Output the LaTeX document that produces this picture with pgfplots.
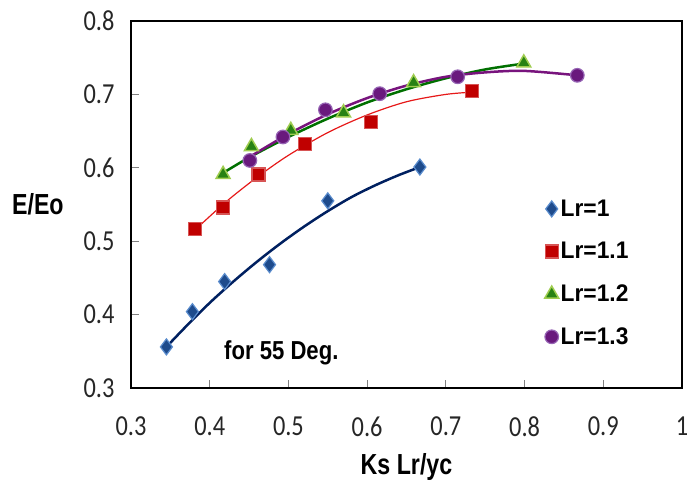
\documentclass[border=0pt]{standalone}
\usepackage{fontspec}
\usepackage{pgfplots}
\usepackage{pgfplotstable}
\pgfplotsset{compat=1.18}
\setmainfont{Carlito}
\newfontfamily\tickfont{Carlito}[FakeStretch=0.84]
\newfontfamily\labfont{Liberation Sans}[FakeStretch=0.8]
\newfontfamily\legfont{Liberation Sans}[FakeStretch=0.95]
\newfontfamily\notefont{Liberation Sans}[FakeStretch=0.85]

\definecolor{navyline}{RGB}{0,32,96}
\definecolor{diafill}{RGB}{30,75,140}
\definecolor{diaedge}{RGB}{90,140,205}
\definecolor{redline}{RGB}{230,25,25}
\definecolor{sqfill}{RGB}{192,0,0}
\definecolor{sqedge}{RGB}{215,85,85}
\definecolor{greenline}{RGB}{0,112,0}
\definecolor{trifill}{RGB}{40,130,20}
\definecolor{triedge}{RGB}{160,205,80}
\definecolor{purpleline}{RGB}{120,20,125}
\definecolor{circfill}{RGB}{105,25,125}
\definecolor{circedge}{RGB}{150,100,180}

% measured points
\pgfplotstableread{
x y
0.345 0.356
0.378 0.404
0.419 0.445
0.476 0.468
0.550 0.555
0.667 0.601
}\lrA
\pgfplotstableread{
x y
0.381 0.517
0.417 0.546
0.462 0.591
0.521 0.632
0.605 0.662
0.733 0.705
}\lrB
\pgfplotstableread{
x y
0.417 0.591
0.453 0.629
0.503 0.651
0.570 0.675
0.659 0.716
0.799 0.743
}\lrC
\pgfplotstableread{
x y
0.451 0.610
0.493 0.642
0.547 0.679
0.616 0.701
0.715 0.724
0.867 0.726
}\lrD

% trend curves
\pgfplotstableread{
x y
0.345 0.356
0.370 0.384
0.400 0.416
0.430 0.445
0.460 0.472
0.490 0.497
0.520 0.520
0.550 0.541
0.580 0.560
0.610 0.576
0.640 0.590
0.667 0.601
}\trA
\pgfplotstableread{
x y
0.381 0.515
0.420 0.553
0.460 0.587
0.500 0.617
0.550 0.648
0.600 0.672
0.650 0.690
0.700 0.700
0.733 0.703
}\trB
\pgfplotstableread{
x y
0.417 0.593
0.450 0.614
0.500 0.642
0.550 0.667
0.600 0.689
0.650 0.707
0.700 0.722
0.750 0.734
0.799 0.742
}\trC
\pgfplotstableread{
x y
0.451 0.615
0.500 0.646
0.550 0.673
0.600 0.695
0.650 0.712
0.700 0.724
0.750 0.730
0.800 0.732
0.867 0.726
}\trD

\begin{document}
\begin{tikzpicture}
\begin{axis}[
  scale only axis, width=551pt, height=367pt,
  xmin=0.3, xmax=1, ymin=0.3, ymax=0.8,
  xtick={0.3,0.4,0.5,0.6,0.7,0.8,0.9,1},
  ytick={0.3,0.4,0.5,0.6,0.7,0.8},
  tick align=inside, xtick pos=bottom, ytick pos=left,
  major tick length=8pt,
  major tick style={black!50, line width=0.8pt},
  axis line style={black, line width=1.8pt},
  /pgf/number format/assume math mode=true,
  /pgf/number format/fixed, /pgf/number format/precision=1,
  ticklabel style={font=\tickfont\fontsize{29}{32}\selectfont, text=black!85},
  yticklabel style={xshift=-13pt},
  xticklabel style={yshift=-25pt},
  xlabel={Ks Lr/yc}, ylabel={E/Eo},
  label style={font=\labfont\bfseries\fontsize{29}{32}\selectfont},
  xlabel style={at={(axis description cs:0.5,-0.215)}, anchor=center},
  ylabel style={at={(axis description cs:-0.169,0.5)}, anchor=center, rotate=-90},
  legend style={draw=none, fill=none, at={(0.747,0.524)}, anchor=north west,
    font=\legfont\bfseries\fontsize{24}{28}\selectfont, row sep=20.5pt, inner sep=2pt},
  legend cell align=left,
]
\addplot[only marks, mark=diamond*, mark size=8pt,
  mark options={fill=diafill, draw=diaedge, line width=1.2pt}] table {\lrA};
\addlegendentry{Lr=1}
\addplot[only marks, mark=square*, mark size=6.5pt,
  mark options={fill=sqfill, draw=sqedge, line width=1.2pt}] table {\lrB};
\addlegendentry{Lr=1.1}
\addplot[only marks, mark=triangle*, mark size=8pt,
  mark options={fill=trifill, draw=triedge, line width=1.5pt}] table {\lrC};
\addlegendentry{Lr=1.2}
\addplot[only marks, mark=*, mark size=6.8pt,
  mark options={fill=circfill, draw=circedge, line width=1.2pt}] table {\lrD};
\addlegendentry{Lr=1.3}

\addplot[forget plot, smooth, navyline, line width=2.5pt] table {\trA};
\addplot[forget plot, smooth, redline, line width=1.2pt] table {\trB};
\addplot[forget plot, smooth, greenline, line width=2.5pt] table {\trC};
\addplot[forget plot, smooth, purpleline, line width=2.5pt] table {\trD};

\node[font=\notefont\bfseries\fontsize{26}{30}\selectfont] at (axis cs:0.491,0.348) {for 55 Deg.};
\end{axis}
\pgfresetboundingbox
\path ([shift={(-131pt,-99pt)}]current axis.south west) rectangle ([shift={(5pt,21pt)}]current axis.north east);
\end{tikzpicture}
\end{document}
